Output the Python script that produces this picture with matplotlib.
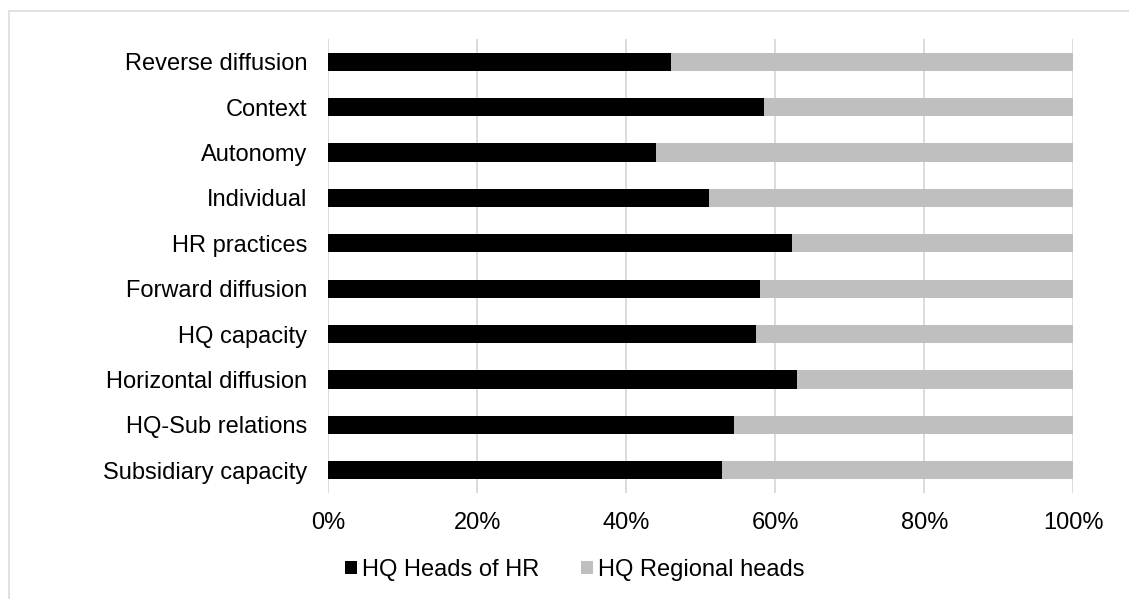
import matplotlib.pyplot as plt
from matplotlib.patches import Rectangle
from matplotlib.ticker import PercentFormatter

plt.rcParams['font.family'] = ['Liberation Sans', 'DejaVu Sans']

# Categories listed bottom to top
categories = ['Subsidiary capacity', 'HQ-Sub relations', 'Horizontal diffusion',
              'HQ capacity', 'Forward diffusion', 'HR practices', 'Individual',
              'Autonomy', 'Context', 'Reverse diffusion']
heads_of_hr = [52.9, 54.5, 62.9, 57.4, 58.0, 62.3, 51.1, 44.0, 58.5, 46.0]
regional_heads = [100 - v for v in heads_of_hr]

fig = plt.figure(figsize=(11.29, 5.99), dpi=100)
ax = fig.add_axes([0.2908, 0.177, 0.6599, 0.7579])

ax.barh(categories, heads_of_hr, height=0.4, color='#000000', label='HQ Heads of HR')
ax.barh(categories, regional_heads, left=heads_of_hr, height=0.4, color='#bfbfbf',
        label='HQ Regional heads')

ax.set_xlim(0, 100)
ax.set_ylim(-0.5, len(categories) - 0.5)
ax.set_xticks([0, 20, 40, 60, 80, 100])
ax.xaxis.set_major_formatter(PercentFormatter(decimals=0))
ax.grid(axis='x', color='#d9d9d9', linewidth=1.3)
ax.set_axisbelow(True)
for s in ['top', 'right', 'bottom', 'left']:
    ax.spines[s].set_visible(False)
ax.tick_params(axis='y', length=0, pad=15, labelsize=17)
ax.tick_params(axis='x', length=0, pad=14, labelsize=17)

fig.legend(loc='center', bbox_to_anchor=(0.509, 1 - 570 / 599), ncol=2, frameon=False,
           fontsize=17, handlelength=0.5, handleheight=0.5, handletextpad=0.2,
           columnspacing=1.8)

# thin outer frame
fig.patches.append(Rectangle((8.5, -20), 1200, 599 - 10.5 + 20, transform=None,
                             fill=False, edgecolor='#d9d9d9', linewidth=1.1))

fig.savefig('out.png', dpi=100)
